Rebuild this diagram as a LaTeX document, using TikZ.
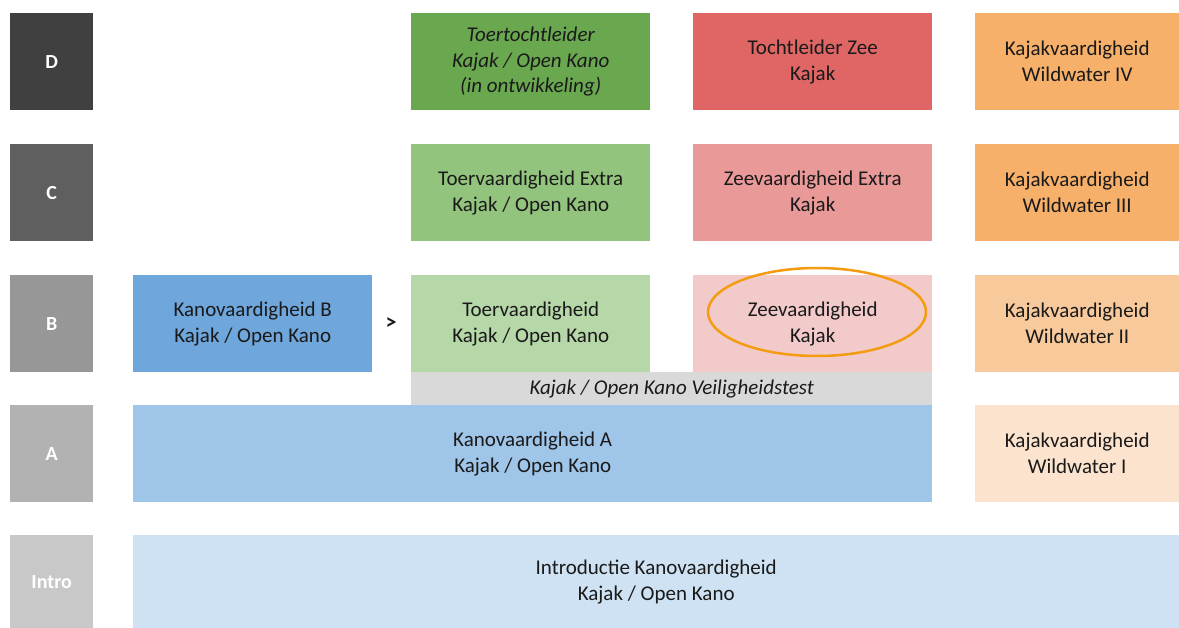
\documentclass[tikz,border=0pt]{standalone}
\usepackage{fontspec}
\setmainfont{Carlito}
\usetikzlibrary{positioning}
\definecolor{lvlD}{HTML}{404040}
\definecolor{lvlC}{HTML}{5F5F5F}
\definecolor{lvlB}{HTML}{979797}
\definecolor{lvlA}{HTML}{B2B2B2}
\definecolor{lvlI}{HTML}{C8C8C8}
\definecolor{toerD}{HTML}{6AA84F}
\definecolor{toerC}{HTML}{93C47D}
\definecolor{toerB}{HTML}{B6D7A8}
\definecolor{zeeD}{HTML}{E06666}
\definecolor{zeeC}{HTML}{EA9999}
\definecolor{zeeB}{HTML}{F2CACA}
\definecolor{wildD}{HTML}{F6B06A}
\definecolor{wildB}{HTML}{F7C99B}
\definecolor{wildA}{HTML}{FCE3CD}
\definecolor{kanoB}{HTML}{6FA6DC}
\definecolor{kanoA}{HTML}{9FC5E8}
\definecolor{kanoI}{HTML}{CFE2F3}
\definecolor{veil}{HTML}{D9D9D9}
\definecolor{ring}{HTML}{F39C12}
\definecolor{txt}{HTML}{1A1A1A}

\tikzset{
  lvl/.style={anchor=north west, fill=#1, text=white, inner sep=0pt,
    minimum width=83pt, minimum height=97pt,
    font=\bfseries\fontsize{20}{24}\selectfont},
  box/.style={anchor=north west, fill=#1, text=txt, inner sep=0pt,
    align=center, minimum width=239pt, minimum height=97pt,
    font=\fontsize{21}{26}\selectfont}
}

\begin{document}
\begin{tikzpicture}[x=1pt,y=-1pt]
  \useasboundingbox (0,0) rectangle (1179,628);

  % levels
  \node[lvl=lvlD] (D) at (10,13) {D};
  \node[lvl=lvlC] (C) at (10,144) {C};
  \node[lvl=lvlB] (B) at (10,275) {B};
  \node[lvl=lvlA] (A) at (10,405) {A};
  \node[lvl=lvlI, minimum height=93pt] (I) at (10,535) {Intro};

  % toer
  \node[box=toerD, font=\itshape\fontsize{21}{25.5}\selectfont] (toerD) at (411,13)
    {Toertochtleider\\Kajak / Open Kano\\(in ontwikkeling)};
  \node[box=toerC] (toerC) at (411,144) {Toervaardigheid Extra\\Kajak / Open Kano};
  \node[box=toerB] (toerB) at (411,275) {Toervaardigheid\\Kajak / Open Kano};

  % zee
  \node[box=zeeD] (zeeD) at (693,13) {Tochtleider Zee\\Kajak};
  \node[box=zeeC] (zeeC) at (693,144) {Zeevaardigheid Extra\\Kajak};
  \node[box=zeeB] (zeeB) at (693,275) {Zeevaardigheid\\Kajak};

  % wildwater
  \node[box=wildD, minimum width=204pt] (wildD) at (975,13) {Kajakvaardigheid\\Wildwater IV};
  \node[box=wildD, minimum width=204pt] (wildC) at (975,144) {Kajakvaardigheid\\Wildwater III};
  \node[box=wildB, minimum width=204pt] (wildB) at (975,275) {Kajakvaardigheid\\Wildwater II};
  \node[box=wildA, minimum width=204pt] (wildA) at (975,405) {Kajakvaardigheid\\Wildwater I};

  % kano
  \node[box=kanoB] (kanoB) at (133,275) {Kanovaardigheid B\\Kajak / Open Kano};
  \node[font=\bfseries\fontsize{22}{26}\selectfont, text=txt] (gt) at (391,324) {>};
  \node[box=veil, minimum width=521pt, minimum height=33pt,
    font=\itshape\fontsize{21}{24}\selectfont] (veil) at (411,372)
    {Kajak / Open Kano Veiligheidstest};
  \node[box=kanoA, minimum width=799pt] (kanoA) at (133,405) {Kanovaardigheid A\\Kajak / Open Kano};
  \node[box=kanoI, minimum width=1046pt, minimum height=93pt] (kanoI) at (133,535)
    {Introductie Kanovaardigheid\\Kajak / Open Kano};

  \draw[ring, line width=2.5pt] (817,312) ellipse [x radius=109pt, y radius=44pt];
\end{tikzpicture}
\end{document}
